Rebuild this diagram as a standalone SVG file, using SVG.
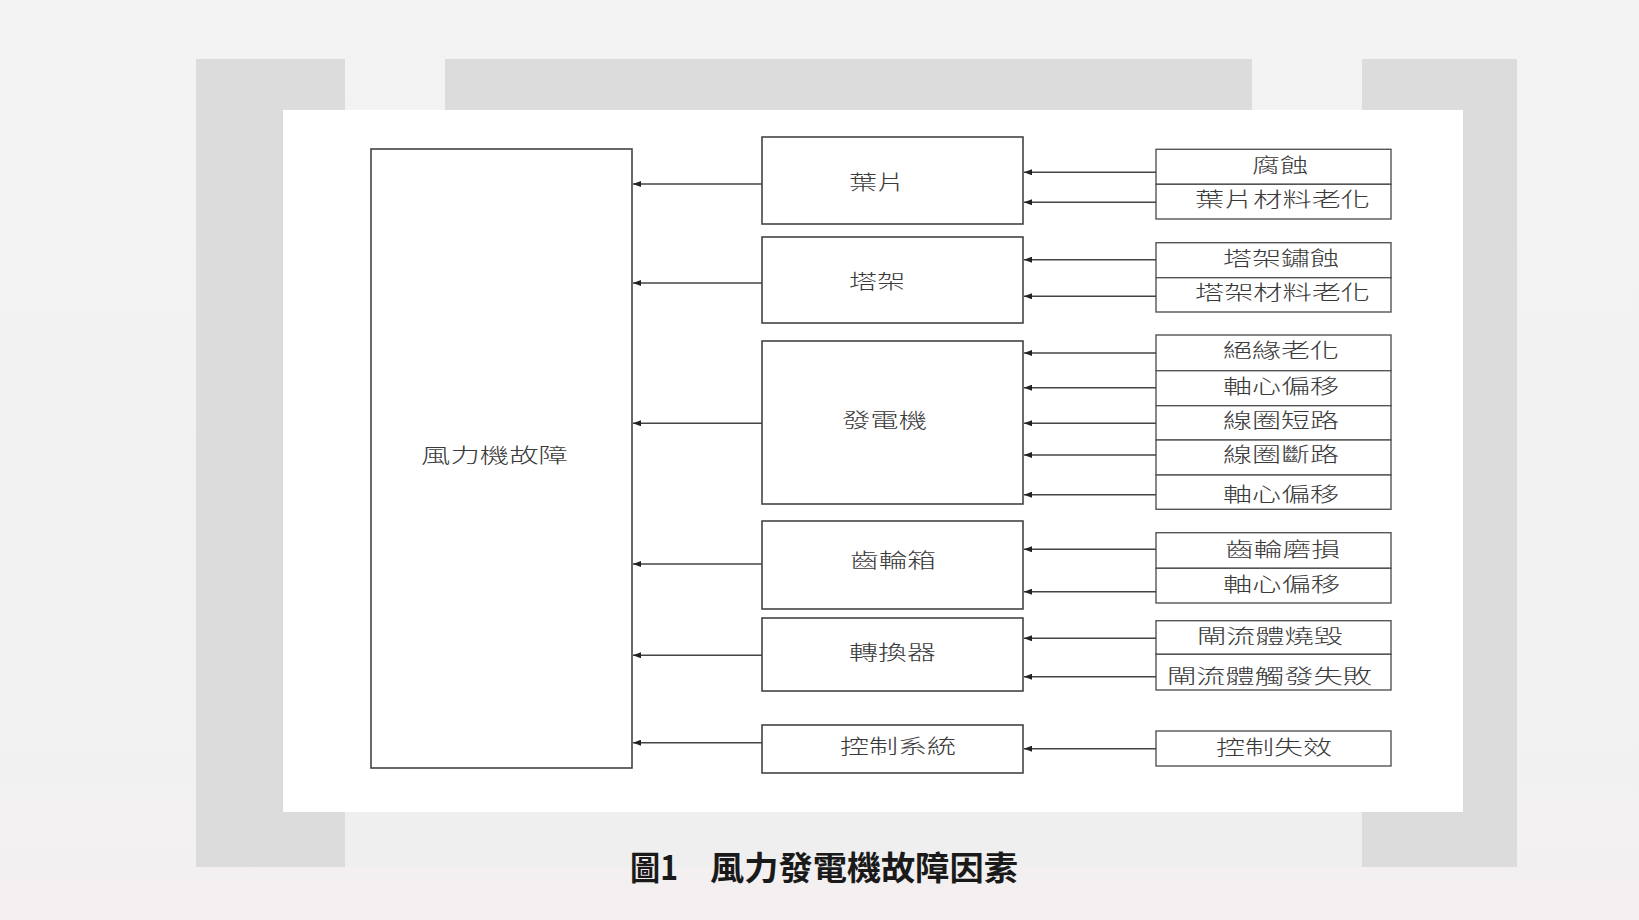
<svg xmlns="http://www.w3.org/2000/svg" width="1639" height="920" viewBox="0 0 1639 920">
<style>
.box{fill:#ffffff;stroke:#444;stroke-width:1.6}
.cell{fill:#ffffff;stroke:#555;stroke-width:1.4}
.lbl{font-family:"Noto Sans CJK TC","Noto Sans CJK SC",sans-serif;font-size:20px;font-weight:300;fill:#3a3a3a;dominant-baseline:central}
.cap{font-family:"Noto Sans CJK TC","Noto Sans CJK SC",sans-serif;font-size:33px;font-weight:bold;fill:#1a1a1a;dominant-baseline:central}
.conn line{stroke:#444;stroke-width:1.4;marker-end:url(#ah)}
</style>
<defs>
<marker id="ah" markerUnits="userSpaceOnUse" markerWidth="9" markerHeight="6" refX="8" refY="3" orient="auto">
<path d="M0,0 L8,3 L0,6 z" fill="#222"/>
</marker>
<linearGradient id="bg" x1="0" y1="0" x2="0" y2="1">
<stop offset="0" stop-color="#f3f3f3"/>
<stop offset="0.85" stop-color="#f2f1f1"/>
<stop offset="1" stop-color="#f4eff0"/>
</linearGradient>
</defs>
<rect x="0" y="0" width="1639" height="920" fill="url(#bg)"/>
<rect x="196" y="59" width="149" height="808" fill="#dcdcdc"/>
<rect x="445" y="59" width="807" height="51" fill="#dcdcdc"/>
<rect x="1362" y="59" width="155" height="808" fill="#dcdcdc"/>
<rect x="345" y="812" width="1017" height="55" fill="#efefef"/>
<rect x="283" y="110" width="1180" height="702" fill="#ffffff"/>

<g id="main"><rect class="box" x="371" y="149" width="261" height="619"/><text class="lbl" x="421" y="454" textLength="147" lengthAdjust="spacingAndGlyphs">風力機故障</text></g>

<g id="blade"><rect class="box" x="762" y="137" width="261" height="87"/><text class="lbl" x="849" y="181" textLength="56" lengthAdjust="spacingAndGlyphs">葉片</text></g>
<g id="tower"><rect class="box" x="762" y="237" width="261" height="86"/><text class="lbl" x="849" y="280" textLength="56" lengthAdjust="spacingAndGlyphs">塔架</text></g>
<g id="generator"><rect class="box" x="762" y="341" width="261" height="163"/><text class="lbl" x="842" y="419" textLength="85" lengthAdjust="spacingAndGlyphs">發電機</text></g>
<g id="gearbox"><rect class="box" x="762" y="521" width="261" height="88"/><text class="lbl" x="850" y="559" textLength="86" lengthAdjust="spacingAndGlyphs">齒輪箱</text></g>
<g id="converter"><rect class="box" x="762" y="618" width="261" height="73"/><text class="lbl" x="849" y="651" textLength="87" lengthAdjust="spacingAndGlyphs">轉換器</text></g>
<g id="control"><rect class="box" x="762" y="725" width="261" height="48"/><text class="lbl" x="840" y="745" textLength="116" lengthAdjust="spacingAndGlyphs">控制系統</text></g>

<g id="c-corrosion"><rect class="cell" x="1156" y="149.3" width="235" height="35"/><text class="lbl" x="1252" y="164" textLength="56" lengthAdjust="spacingAndGlyphs">腐蝕</text></g>
<g id="c-blade-aging"><rect class="cell" x="1156" y="184.3" width="235" height="34.7"/><text class="lbl" x="1195" y="198" textLength="175" lengthAdjust="spacingAndGlyphs">葉片材料老化</text></g>
<g id="c-tower-rust"><rect class="cell" x="1156" y="242.7" width="235" height="35"/><text class="lbl" x="1223" y="257" textLength="116" lengthAdjust="spacingAndGlyphs">塔架鏽蝕</text></g>
<g id="c-tower-aging"><rect class="cell" x="1156" y="277.7" width="235" height="34.3"/><text class="lbl" x="1195" y="291" textLength="175" lengthAdjust="spacingAndGlyphs">塔架材料老化</text></g>
<g id="c-insulation"><rect class="cell" x="1156" y="335" width="235" height="35.7"/><text class="lbl" x="1223" y="349" textLength="116" lengthAdjust="spacingAndGlyphs">絕緣老化</text></g>
<g id="c-shaft1"><rect class="cell" x="1156" y="370.7" width="235" height="35"/><text class="lbl" x="1223" y="385" textLength="116" lengthAdjust="spacingAndGlyphs">軸心偏移</text></g>
<g id="c-short"><rect class="cell" x="1156" y="405.7" width="235" height="34.3"/><text class="lbl" x="1223" y="419" textLength="116" lengthAdjust="spacingAndGlyphs">線圈短路</text></g>
<g id="c-open"><rect class="cell" x="1156" y="440" width="235" height="35"/><text class="lbl" x="1223" y="453" textLength="116" lengthAdjust="spacingAndGlyphs">線圈斷路</text></g>
<g id="c-shaft2"><rect class="cell" x="1156" y="475" width="235" height="34.3"/><text class="lbl" x="1223" y="493" textLength="116" lengthAdjust="spacingAndGlyphs">軸心偏移</text></g>
<g id="c-gear-wear"><rect class="cell" x="1156" y="532.7" width="235" height="35.6"/><text class="lbl" x="1225" y="548" textLength="115" lengthAdjust="spacingAndGlyphs">齒輪磨損</text></g>
<g id="c-shaft3"><rect class="cell" x="1156" y="568.3" width="235" height="34.7"/><text class="lbl" x="1223" y="583" textLength="117" lengthAdjust="spacingAndGlyphs">軸心偏移</text></g>
<g id="c-thyristor-burn"><rect class="cell" x="1156" y="620.7" width="235" height="33.6"/><text class="lbl" x="1197" y="635" textLength="146" lengthAdjust="spacingAndGlyphs">閘流體燒毀</text></g>
<g id="c-thyristor-trigger"><rect class="cell" x="1156" y="654.3" width="235" height="35.7"/><text class="lbl" x="1167" y="675" textLength="205" lengthAdjust="spacingAndGlyphs">閘流體觸發失敗</text></g>
<g id="c-control-fail"><rect class="cell" x="1156" y="731" width="235" height="35"/><text class="lbl" x="1216" y="746.5" textLength="116" lengthAdjust="spacingAndGlyphs">控制失效</text></g>

<g id="connectors" class="conn">
<line x1="762" y1="184" x2="633" y2="184"/>
<line x1="762" y1="283" x2="633" y2="283"/>
<line x1="762" y1="423.3" x2="633" y2="423.3"/>
<line x1="762" y1="564" x2="633" y2="564"/>
<line x1="762" y1="655.3" x2="633" y2="655.3"/>
<line x1="762" y1="742.7" x2="633" y2="742.7"/>
<line x1="1156" y1="172.3" x2="1024" y2="172.3"/>
<line x1="1156" y1="202.3" x2="1024" y2="202.3"/>
<line x1="1156" y1="259.7" x2="1024" y2="259.7"/>
<line x1="1156" y1="296.3" x2="1024" y2="296.3"/>
<line x1="1156" y1="353" x2="1024" y2="353"/>
<line x1="1156" y1="387.7" x2="1024" y2="387.7"/>
<line x1="1156" y1="423.3" x2="1024" y2="423.3"/>
<line x1="1156" y1="455" x2="1024" y2="455"/>
<line x1="1156" y1="494.7" x2="1024" y2="494.7"/>
<line x1="1156" y1="549.3" x2="1024" y2="549.3"/>
<line x1="1156" y1="591.7" x2="1024" y2="591.7"/>
<line x1="1156" y1="638.3" x2="1024" y2="638.3"/>
<line x1="1156" y1="676.7" x2="1024" y2="676.7"/>
<line x1="1156" y1="748.7" x2="1024" y2="748.7"/>
</g>

<g id="caption">
<text class="cap" x="630" y="866" textLength="48" lengthAdjust="spacingAndGlyphs">圖1</text>
<text class="cap" x="710" y="866" textLength="308" lengthAdjust="spacingAndGlyphs">風力發電機故障因素</text>
</g>
</svg>
